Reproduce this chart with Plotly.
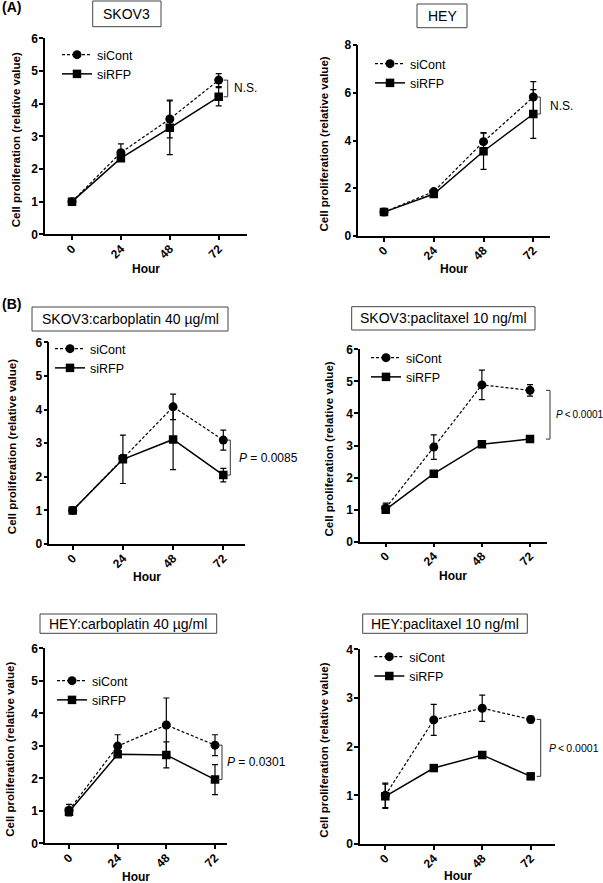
import plotly.graph_objects as go

W, H = 603, 883
hours = [0, 24, 48, 72]
hour_labels = ["0", "24", "48", "72"]
series_names = ["siCont", "siRFP"]

# ---- data (relative proliferation, mean and SD) ----
skov3_cont = [1.0, 2.5, 3.53, 4.72]
skov3_cont_err = [0.03, 0.27, 0.58, 0.2]
skov3_rfp = [1.0, 2.33, 3.26, 4.21]
skov3_rfp_err = [0.03, 0.1, 0.82, 0.28]

hey_cont = [1.0, 1.86, 3.95, 5.82]
hey_cont_err = [0.05, 0.08, 0.38, 0.65]
hey_rfp = [1.0, 1.76, 3.55, 5.11]
hey_rfp_err = [0.05, 0.06, 0.76, 1.02]

skov3_carbo_cont = [1.0, 2.55, 4.08, 3.09]
skov3_carbo_cont_err = [0.03, 0.1, 0.38, 0.3]
skov3_carbo_rfp = [1.0, 2.52, 3.11, 2.05]
skov3_carbo_rfp_err = [0.03, 0.72, 0.9, 0.2]

skov3_pacli_cont = [1.05, 2.95, 4.89, 4.72]
skov3_pacli_cont_err = [0.15, 0.38, 0.46, 0.18]
skov3_pacli_rfp = [1.0, 2.12, 3.04, 3.2]
skov3_pacli_rfp_err = [0.08, 0.04, 0.04, 0.04]

hey_carbo_cont = [1.02, 2.99, 3.64, 3.02]
hey_carbo_cont_err = [0.18, 0.35, 0.83, 0.32]
hey_carbo_rfp = [0.97, 2.74, 2.72, 1.96]
hey_carbo_rfp_err = [0.1, 0.08, 0.4, 0.46]

hey_pacli_cont = [1.0, 2.55, 2.79, 2.56]
hey_pacli_cont_err = [0.25, 0.32, 0.27, 0.07]
hey_pacli_rfp = [0.98, 1.56, 1.83, 1.39]
hey_pacli_rfp_err = [0.25, 0.03, 0.03, 0.04]

titles = ["SKOV3", "HEY", "SKOV3:carboplatin 40 µg/ml", "SKOV3:paclitaxel 10 ng/ml",
          "HEY:carboplatin 40 µg/ml", "HEY:paclitaxel 10 ng/ml"]
stats = ["N.S.", "N.S.", "<i>P</i> = 0.0085", "<i>P</i>\u2009&lt;\u20090.0001",
         "<i>P</i> = 0.0301", "<i>P</i>\u2009&lt;\u20090.0001"]
stat_size = [12, 12, 12, 10, 12, 10.5]
y_max = [6, 8, 6, 6, 6, 4]
y_dtick = [1, 2, 1, 1, 1, 1]

series = [
    (skov3_cont, skov3_cont_err, skov3_rfp, skov3_rfp_err),
    (hey_cont, hey_cont_err, hey_rfp, hey_rfp_err),
    (skov3_carbo_cont, skov3_carbo_cont_err, skov3_carbo_rfp, skov3_carbo_rfp_err),
    (skov3_pacli_cont, skov3_pacli_cont_err, skov3_pacli_rfp, skov3_pacli_rfp_err),
    (hey_carbo_cont, hey_carbo_cont_err, hey_carbo_rfp, hey_carbo_rfp_err),
    (hey_pacli_cont, hey_pacli_cont_err, hey_pacli_rfp, hey_pacli_rfp_err),
]

# ---- layout geometry (pixels) ----
panels = [
    dict(x=(45, 247), y=(38.3, 234.3), px0=72, px72=218.7,
         box=(92.7, 161, 1, 26.7), leg=(77, 40), br=9, st=13, ytit=16, hour=269),
    dict(x=(358.3, 550), y=(45, 236), px0=384, px72=533.3,
         box=(417, 467, 4, 27.7), leg=(390, 49), br=7, st=15, ytit=324, hour=269),
    dict(x=(49.3, 245), y=(342.3, 544), px0=72.7, px72=223.3,
         box=(32, 228, 307, 331), leg=(70, 334), br=7, st=14, ytit=12, hour=577),
    dict(x=(360, 546.7), y=(349.3, 541.7), px0=385.7, px72=530,
         box=(351.7, 535, 306.7, 330), leg=(386, 343), br=20, st=24, ytit=328, hour=576),
    dict(x=(45, 226.7), y=(648.3, 843.3), px0=69, px72=215,
         box=(40, 216.7, 614, 633.3), leg=(72, 666), br=7, st=10, ytit=10, hour=877),
    dict(x=(360, 555), y=(649.3, 844), px0=385.3, px72=530.7,
         box=(362.7, 527.3, 614, 633.3), leg=(389.3, 642), br=10, st=16, ytit=324, hour=876),
]

FONT = "Liberation Sans, Arial, Helvetica, sans-serif"


def fx(p):
    return p / W


def fy(p):
    return 1 - p / H


fig = go.Figure()
layout = dict(
    width=W, height=H, margin=dict(l=0, r=0, t=0, b=0, pad=0, autoexpand=False),
    autosize=False,
    paper_bgcolor="white", plot_bgcolor="white",
    font=dict(family=FONT, color="black"),
    showlegend=True,
)
shapes = []
annotations = []

for i, (pn, (c, ce, r, re_)) in enumerate(zip(panels, series)):
    k = "" if i == 0 else str(i + 1)
    xa, ya = "x" + k, "y" + k
    lg = "legend" + k
    fig.add_trace(go.Scatter(
        x=hours, y=c, name=series_names[0], xaxis=xa, yaxis=ya, legend=lg,
        mode="lines+markers",
        line=dict(color="black", width=1.2, dash="3px,2px"),
        marker=dict(symbol="circle", size=9, color="black"),
        error_y=dict(type="data", array=ce, color="black", thickness=1.2, width=3),
    ))
    fig.add_trace(go.Scatter(
        x=hours, y=r, name=series_names[1], xaxis=xa, yaxis=ya, legend=lg,
        mode="lines+markers",
        line=dict(color="black", width=1.5),
        marker=dict(symbol="square", size=8.5, color="black"),
        error_y=dict(type="data", array=re_, color="black", thickness=1.2, width=3),
    ))
    scale = (pn["px72"] - pn["px0"]) / 72.0
    xmin = (pn["x"][0] - pn["px0"]) / scale
    xmax = (pn["x"][1] - pn["px0"]) / scale
    layout["xaxis" + k] = dict(
        domain=[fx(pn["x"][0]), fx(pn["x"][1])], range=[xmin, xmax],
        anchor=ya, tickvals=hours, ticktext=hour_labels, tickangle=-45,
        showline=True, linecolor="black", linewidth=1.5, ticks="outside",
        ticklen=4, tickwidth=1.5, tickcolor="black", showgrid=False, zeroline=False,
        ticklabelstandoff=-3, automargin=False,
        tickfont=dict(family=FONT, size=12, color="black", weight="bold"),
    )
    layout["yaxis" + k] = dict(
        domain=[fy(pn["y"][1]), fy(pn["y"][0])], range=[0, y_max[i]],
        anchor=xa, dtick=y_dtick[i], tick0=0,
        showline=True, linecolor="black", linewidth=1.5, ticks="outside",
        ticklen=4, tickwidth=1.5, tickcolor="black", showgrid=False, zeroline=False,
        ticklabelstandoff=-1, automargin=False,
        tickfont=dict(family=FONT, size=12, color="black", weight="bold"),
    )
    layout[lg] = dict(
        x=fx(pn["leg"][0] - 20), y=fy(pn["leg"][1]), xanchor="left", yanchor="top",
        bgcolor="rgba(0,0,0,0)", borderwidth=0, font=dict(family=FONT, size=12.5),
        itemwidth=30, tracegroupgap=0,
    )
    # title box
    bx0, bx1, by0, by1 = pn["box"]
    shapes.append(dict(type="rect", xref="paper", yref="paper",
                       x0=fx(bx0), x1=fx(bx1), y0=fy(by1), y1=fy(by0),
                       line=dict(color="#444", width=1)))
    annotations.append(dict(text=titles[i], xref="paper", yref="paper",
                            x=fx((bx0 + bx1) / 2), y=fy((by0 + by1) / 2),
                            xanchor="center", yanchor="middle", showarrow=False,
                            font=dict(family=FONT, size=14, color="black")))
    # significance bracket at 72 h (paper coords so it is not clipped by the plot area)
    top, bot = c[3], r[3]
    ytop_px, ybot_px = pn["y"]

    def vy(v, ytop_px=ytop_px, ybot_px=ybot_px, ym=y_max[i]):
        return fy(ytop_px + (ym - v) / ym * (ybot_px - ytop_px))

    bx = pn["px72"] + pn["br"]
    shapes.append(dict(type="path", xref="paper", yref="paper",
                       path=(f"M {fx(bx - 4)},{vy(top)} L {fx(bx)},{vy(top)} "
                             f"L {fx(bx)},{vy(bot)} L {fx(bx - 4)},{vy(bot)}"),
                       line=dict(color="#333", width=1)))
    annotations.append(dict(text=stats[i], xref=xa, yref=ya, x=72, y=(top + bot) / 2,
                            xanchor="left", yanchor="middle", xshift=pn["st"], showarrow=False,
                            font=dict(family=FONT, size=stat_size[i], color="black")))
    # axis titles
    annotations.append(dict(text="<b>Cell proliferation (relative value)</b>",
                            xref="paper", yref="paper", x=fx(pn["ytit"]),
                            y=fy((pn["y"][0] + pn["y"][1]) / 2 + 4),
                            xanchor="center", yanchor="middle", textangle=-90, showarrow=False,
                            font=dict(family=FONT, size=11.5, color="black")))
    annotations.append(dict(text="<b>Hour</b>", xref="paper", yref="paper",
                            x=fx((pn["x"][0] + pn["x"][1]) / 2), y=fy(pn["hour"]),
                            xanchor="center", yanchor="middle", showarrow=False,
                            font=dict(family=FONT, size=12, color="black")))

annotations.append(dict(text="<b>(A)</b>", xref="paper", yref="paper", x=0, y=fy(7),
                        xanchor="left", yanchor="middle", showarrow=False,
                        font=dict(family=FONT, size=14, color="black")))
annotations.append(dict(text="<b>(B)</b>", xref="paper", yref="paper", x=0, y=fy(304),
                        xanchor="left", yanchor="middle", showarrow=False,
                        font=dict(family=FONT, size=14, color="black")))

layout["shapes"] = shapes
layout["annotations"] = annotations
fig.update_layout(**layout)
fig.write_html("out.html", config={"displayModeBar": False},
               post_script="document.body.style.margin='0';")
